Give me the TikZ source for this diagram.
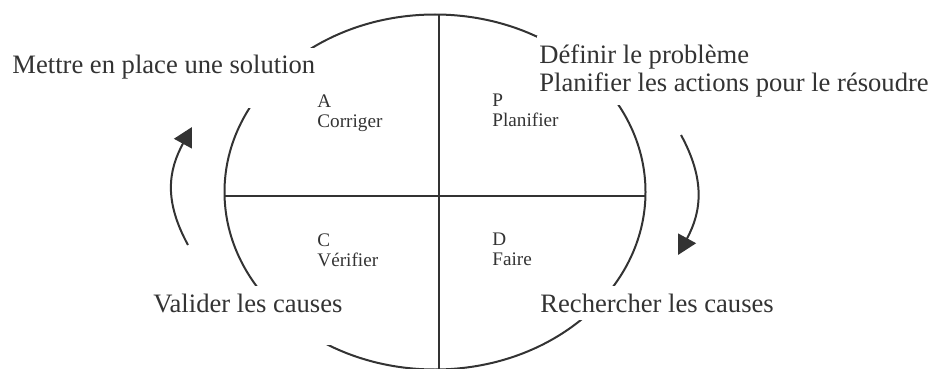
\documentclass[tikz,border=0pt]{standalone}
\usepackage{fontspec}
\setmainfont{Liberation Serif}
\usepackage{tikz}
\usetikzlibrary{arrows.meta}
\colorlet{inkgray}{black!80}
\tikzset{
  ring/.style={draw=inkgray, line width=1pt},
  axis/.style={draw=inkgray, line width=1pt},
  turn/.style={-{Triangle[length=9.5pt, width=10pt]}, line width=1pt, draw=inkgray},
  stage/.style={fill=white, text=inkgray, font=\fontsize{13.3}{14}\selectfont,
    align=left, inner xsep=1pt, inner ysep=4pt},
  quad/.style={text=inkgray, font=\fontsize{9.6}{10}\selectfont, align=left,
    inner sep=0pt, anchor=north west},
}
\begin{document}
\begin{tikzpicture}[x=0.5pt,y=-0.5pt]
\useasboundingbox (0,0) rectangle (931,369);
% ring and cross
\coordinate (ctr) at (435,192);
\coordinate (top) at (439,15);
\coordinate (bot) at (439,369);
\coordinate (west) at (225,196);
\coordinate (east) at (645,196);
\draw[ring] (ctr) ellipse [x radius=210.5, y radius=177.5];
\draw[axis] (top) -- (bot);
\draw[axis] (west) -- (east);
% turning arrows
\coordinate (lfrom) at (188,245);
\coordinate (lto) at (192,127);
\coordinate (rfrom) at (681,135);
\coordinate (rto) at (678,255);
\draw[turn] (lfrom) .. controls (164,201) and (168,171) .. (lto);
\draw[turn] (rfrom) .. controls (705,179) and (702,211) .. (rto);
% quadrant letters
\node[quad] (qa) at (317,94) {A\\Corriger};
\node[quad] (qp) at (492,94) {P\\Planifier};
\node[quad] (qc) at (317,233) {C\\Vérifier};
\node[quad] (qd) at (492,233) {D\\Faire};
% stage texts; their white boxes cut the ring
\node[stage, anchor=base west, text depth=13pt] (act) at (10,74) {Mettre en place une solution};
\node[stage, anchor=north west] (plan) at (537,36) {Définir le problème\\Planifier les actions pour le résoudre};
\node[stage, anchor=base west, text depth=12.5pt] (check) at (151,312) {Valider les causes};
\node[stage, anchor=base west] (do) at (538,312) {Rechercher les causes};
\end{tikzpicture}
\end{document}
